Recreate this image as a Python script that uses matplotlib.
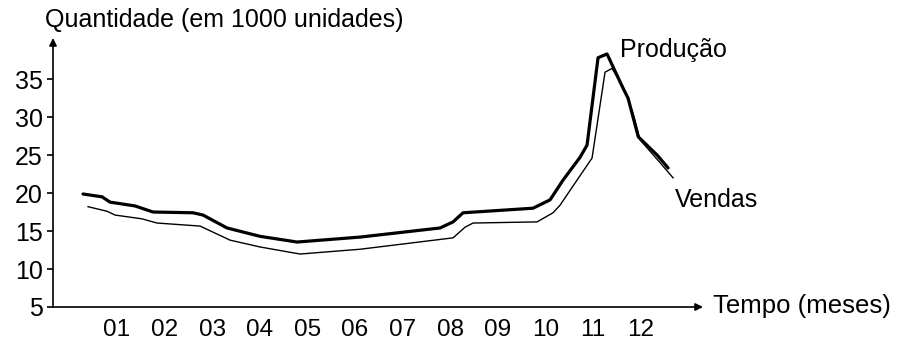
import matplotlib
matplotlib.use("Agg")
import matplotlib.pyplot as plt

plt.rcParams['font.family'] = ['Liberation Sans', 'DejaVu Sans']

# Data (x in month units; label "01" at x=1)
prod_x = [0.286, 0.685, 0.853, 1.378, 1.756, 2.597, 2.807, 3.311, 4.004, 4.782,
          6.105, 7.786, 8.059, 8.269, 9.739, 10.097, 10.370, 10.727, 10.874,
          11.105, 11.294, 11.630, 11.735, 11.950, 12.345, 12.576]
prod_y = [19.87, 19.5, 18.8, 18.3, 17.5, 17.4, 17.1, 15.4, 14.3, 13.55,
          14.2, 15.4, 16.2, 17.4, 18.0, 19.1, 21.7, 24.7, 26.3,
          37.8, 38.3, 33.8, 32.5, 27.4, 25.0, 23.3]

sales_x = [0.391, 0.790, 0.958, 1.525, 1.840, 2.744, 3.374, 4.004, 4.845, 6.105,
           8.059, 8.311, 8.479, 9.824, 10.160, 10.307, 10.664, 10.979, 11.252,
           11.399, 11.630, 11.840, 11.987, 12.366, 12.681]
sales_y = [18.2, 17.6, 17.1, 16.6, 16.05, 15.65, 13.8, 12.9, 11.97, 12.6,
           14.1, 15.5, 16.05, 16.2, 17.4, 18.4, 21.7, 24.6, 35.9,
           36.4, 34.0, 30.5, 27.0, 24.3, 22.0]

month_pos = list(range(1, 13))
month_labels = ['01', '02', '03', '04', '05', '06', '07', '08', '09', '10', '11', '12']
y_ticks = [5, 10, 15, 20, 25, 30, 35]

fig = plt.figure(figsize=(9, 3.44), dpi=100)
ax = fig.add_axes([53/900, 1 - 307/344, (703 - 53)/900, (307 - 38)/344])
ax.set_xlim(-0.345, 13.31)
ax.set_ylim(5, 40.4)

ax.plot(prod_x, prod_y, color='black', lw=2.3, solid_joinstyle='round', solid_capstyle='round')
ax.plot(sales_x, sales_y, color='black', lw=1.0, solid_joinstyle='round')

for s in ax.spines.values():
    s.set_visible(False)

# Axes with arrows
ax.annotate('', xy=(1, 0), xytext=(0, 0), xycoords='axes fraction',
            arrowprops=dict(arrowstyle='-|>', color='black', lw=1.2,
                            mutation_scale=11, shrinkA=0, shrinkB=0))
ax.annotate('', xy=(0, 1), xytext=(0, 0), xycoords='axes fraction',
            arrowprops=dict(arrowstyle='-|>', color='black', lw=1.2,
                            mutation_scale=11, shrinkA=0, shrinkB=0))

ax.set_yticks(y_ticks)
ax.set_yticklabels([str(v) for v in y_ticks])
ax.set_xticks(month_pos)
ax.set_xticklabels(month_labels)
ax.tick_params(axis='y', length=4.5, width=1.2, pad=3, labelsize=18)
ax.tick_params(axis='x', length=0, pad=9, labelsize=17.5)

fig.text(45/900, 1 - 27/344, 'Quantidade (em 1000 unidades)', fontsize=18,
         ha='left', va='baseline')
fig.text(620/900, 1 - 57/344, 'Produção', fontsize=18, ha='left', va='baseline')
fig.text(675/900, 1 - 207/344, 'Vendas', fontsize=18, ha='left', va='baseline')
fig.text(713/900, 1 - 313/344, 'Tempo (meses)', fontsize=18.5, ha='left', va='baseline')

fig.savefig('out.png', dpi=100)
